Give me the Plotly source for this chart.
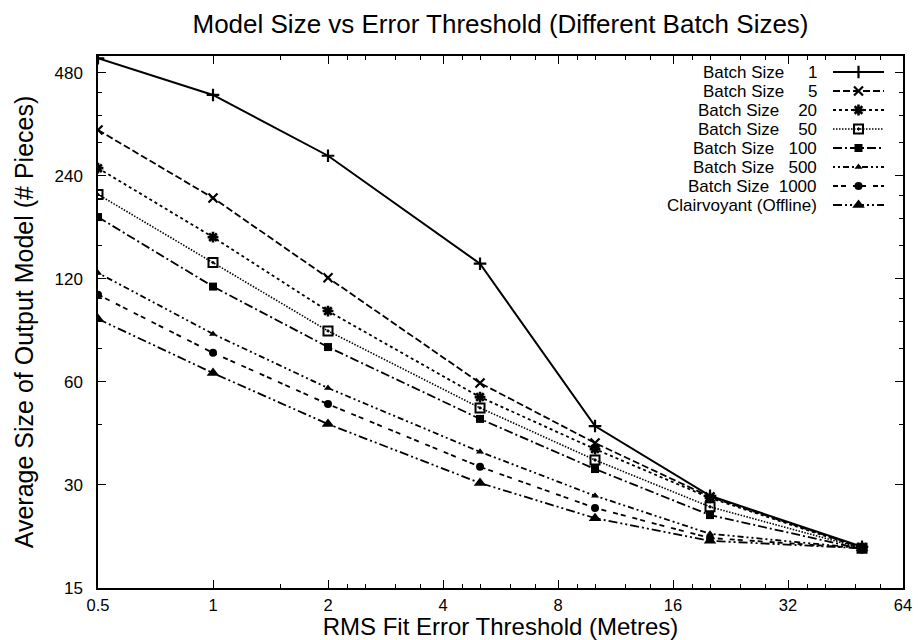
import plotly.graph_objects as go

# ---------------- data ----------------
thresholds = [0.5, 1, 2, 5, 10, 20, 50]

batch_1 = [530, 414, 275, 133, 44.6, 27.9, 19.8]
batch_5 = [327, 207, 121, 59.6, 39.8, 27.7, 19.7]
batch_20 = [253, 159, 96.7, 54.2, 38.2, 27.5, 19.6]
batch_50 = [212, 134, 84.6, 50.4, 35.5, 25.9, 19.6]
batch_100 = [182, 114, 75.9, 46.8, 33.4, 24.5, 19.5]
batch_500 = [125, 82.9, 57.6, 37.5, 27.9, 21.6, 19.6]
batch_1000 = [108, 73.0, 51.7, 33.9, 25.7, 21.0, 19.6]
clairvoyant = [91.7, 63.7, 45.2, 30.4, 24.0, 20.6, 19.6]

legend_names = ["Batch Size", "Batch Size", "Batch Size", "Batch Size",
                "Batch Size", "Batch Size", "Batch Size", "Clairvoyant (Offline)"]
legend_numbers = ["1", "5", "20", "50", "100", "500", "1000", ""]

x_tick_vals = [0.5, 1, 2, 4, 8, 16, 32, 64]
x_tick_text = ["0.5", "1", "2", "4", "8", "16", "32", "64"]
y_tick_vals = [15, 30, 60, 120, 240, 480]
y_tick_text = ["15", "30", "60", "120", "240", "480"]
x_minor_vals = [1.5, 2.25, 2.5, 3, 3.5, 4.5, 5, 6, 7, 9, 10, 12, 14,
                18, 20, 24, 28, 36, 40, 48, 56]
y_minor_vals = [45, 75, 90, 105, 150, 180, 210, 300, 360, 420]

series = [batch_1, batch_5, batch_20, batch_50, batch_100,
          batch_500, batch_1000, clairvoyant]

# ---------------- styles ----------------
FONT = "Liberation Sans, Arial, Helvetica, sans-serif"
styles = [
    dict(dash="solid", width=2.0, symbol="cross-thin-open", size=9, lw=2.2),
    dict(dash="7px,3px", width=1.8, symbol="x-thin-open", size=9, lw=2.2),
    dict(dash="3px,3px", width=1.8, symbol="asterisk-open", size=9, lw=2.6),
    dict(dash="1.5px,1.5px", width=1.6, symbol="square-open-dot", size=9, lw=2.0),
    dict(dash="9px,3px,2px,3px", width=1.8, symbol="square", size=8, lw=0),
    dict(dash="2px,3px,2px,3px,6px,3px", width=1.8, symbol="triangle-up", size=7, lw=0),
    dict(dash="5px,3px,5px,7px", width=1.8, symbol="circle", size=8, lw=0),
    dict(dash="9px,3px,2px,3px,2px,3px", width=1.8, symbol="triangle-up", size=11, lw=0),
]

W, H = 919, 640
ML, MR, MT, MB = 98, 16, 56, 52
PW, PH = W - ML - MR, H - MT - MB

fig = go.Figure()

for vals, st in zip(series, styles):
    fig.add_trace(go.Scatter(
        x=thresholds, y=vals, mode="lines+markers",
        line=dict(color="black", width=st["width"], dash=st["dash"]),
        marker=dict(symbol=st["symbol"], size=st["size"], color="black",
                    line=dict(color="black", width=st["lw"])),
        showlegend=False, hoverinfo="x+y",
    ))

# ---------------- manual gnuplot-style key ----------------
key_text_right = 819 - ML     # px from plot left
key_line_start = 833 - ML
key_line_end = 884 - ML
key_top = MT + 16
key_step = 19
for i, (name, num, st) in enumerate(zip(legend_names, legend_numbers, styles)):
    yy = PH - (key_top + key_step * i - MT)
    label = name if not num else name + "\u00a0" * (6 - len(num)) + num
    fig.add_annotation(x=key_text_right, y=yy, xref="x2", yref="y2",
                       text=label, showarrow=False, xanchor="right",
                       yanchor="middle", font=dict(family=FONT, size=17, color="black"))
    fig.add_trace(go.Scatter(
        x=[key_line_start, key_line_end], y=[yy, yy], xaxis="x2", yaxis="y2",
        mode="lines", line=dict(color="black", width=st["width"], dash=st["dash"]),
        showlegend=False, hoverinfo="skip"))
    fig.add_trace(go.Scatter(
        x=[(key_line_start + key_line_end) / 2], y=[yy], xaxis="x2", yaxis="y2",
        mode="markers",
        marker=dict(symbol=st["symbol"], size=st["size"], color="black",
                    line=dict(color="black", width=st["lw"])),
        showlegend=False, hoverinfo="skip"))

axis_common = dict(
    showline=True, linecolor="black", linewidth=1.5, mirror="ticks",
    ticks="inside", ticklen=8, tickwidth=1.2, tickcolor="black",
    showgrid=False, zeroline=False, automargin=False,
)

fig.update_layout(
    width=W, height=H,
    margin=dict(l=ML, r=MR, t=MT, b=MB),
    paper_bgcolor="white", plot_bgcolor="white",
    title=dict(text="Model Size vs Error Threshold (Different Batch Sizes)",
               x=0.5, xref="paper", y=1 - 24 / H, yref="container",
               yanchor="middle", font=dict(family=FONT, size=26, color="black")),
    xaxis=dict(type="log", range=[-0.30103, 1.80618],
               tickmode="array", tickvals=x_tick_vals, ticktext=x_tick_text,
               minor=dict(tickmode="array", tickvals=x_minor_vals, ticks="inside",
                          ticklen=4, tickwidth=1, tickcolor="black"),
               ticklabelstandoff=1,
               tickfont=dict(family=FONT, size=16.5, color="black"),
               title=dict(text="RMS Fit Error Threshold (Metres)", standoff=7,
                          font=dict(family=FONT, size=24, color="black")),
               **axis_common),
    yaxis=dict(type="log", range=[1.17609, 2.7308],
               tickmode="array", tickvals=y_tick_vals, ticktext=y_tick_text,
               minor=dict(tickmode="array", tickvals=y_minor_vals, ticks="inside",
                          ticklen=4, tickwidth=1, tickcolor="black"),
               ticklabelstandoff=10,
               tickfont=dict(family=FONT, size=17, color="black"),
               title=dict(text="Average Size of Output Model (# Pieces)", standoff=14,
                          font=dict(family=FONT, size=25, color="black")),
               **axis_common),
    xaxis2=dict(overlaying="x", range=[0, PW], visible=False, fixedrange=True),
    yaxis2=dict(overlaying="y", range=[0, PH], visible=False, fixedrange=True),
    showlegend=False,
)

fig.write_html("out.html")
